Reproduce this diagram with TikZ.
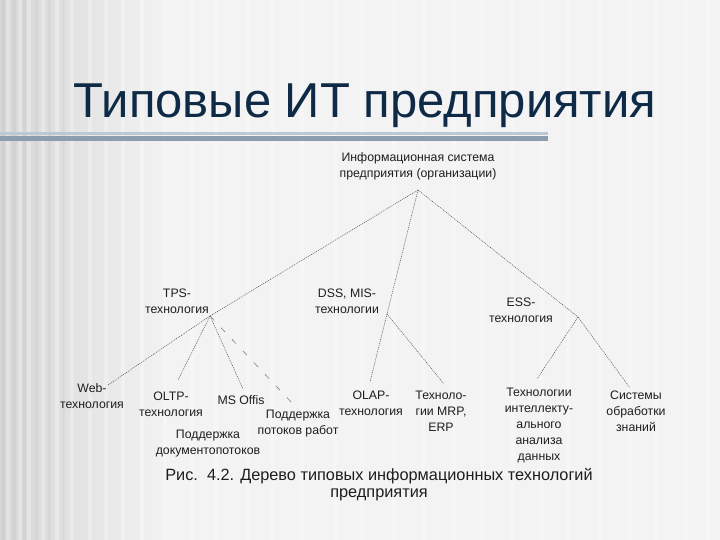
\documentclass[tikz,border=0pt]{standalone}
\usepackage{fontspec}
\setmainfont{Liberation Sans}
\definecolor{bgright}{HTML}{F3F3F3}
\definecolor{bgleft}{HTML}{D6D6D6}
\definecolor{titlecol}{HTML}{0E2A47}
\definecolor{rulecol}{HTML}{8C9DB0}
\definecolor{rulelight}{HTML}{BCC8D4}
\definecolor{txtcol}{HTML}{1E1E1E}
\tikzset{
  txt/.style={align=center, inner sep=0pt, text=txtcol, font=\fontsize{12.3}{16}\selectfont},
  conn/.style={draw=black!70, line width=0.5pt, dash pattern=on 1pt off 1pt},
  longdash/.style={draw=black!50, line width=0.6pt, dash pattern=on 6pt off 10pt}
}
\begin{document}
\begin{tikzpicture}[x=1pt,y=-1pt]
\useasboundingbox (0,0) rectangle (720,540);
% background
\fill[bgright] (0,0) rectangle (720,540);
\shade[left color=bgleft, right color=bgright] (0,0) rectangle (170,540);
\foreach \x in {6,18,27,41,55,70,88,104,121,140,163,190,214,246,271,300,333,360,392,421,452,480,511,540,566,597,628,655,684,706}
  \fill[white, opacity=0.3] (\x,0) rectangle ++(4,540);
\foreach \x in {2,13,23,35,48,62}
  \fill[black, opacity=0.03] (\x,0) rectangle ++(3,540);
% title
\node[anchor=base, inner sep=0pt, text=titlecol, font=\fontsize{49}{58}\selectfont] (title) at (365,118) {Типовые ИТ предприятия};
\fill[rulelight] (0,132) rectangle (548,135);
\fill[rulecol] (0,136.5) rectangle (548,141);
% nodes
\node[txt] (root) at (418,166) {Информационная система\\предприятия (организации)};
\node[txt] (tps) at (177,301) {TPS-\\технология};
\node[txt] (dss) at (347,301) {DSS, MIS-\\технологии};
\node[txt] (ess) at (521,310) {ESS-\\технология};
\node[txt] (web) at (92,396) {Web-\\технология};
\node[txt] (oltp) at (171,404) {OLTP-\\технология};
\node[txt] (msoff) at (241,400) {MS Offis};
\node[txt] (flow) at (298,424) {Поддержка\\потоков работ};
\node[txt] (docs) at (208,444) {Поддержка\\документопотоков};
\node[txt] (olap) at (371,403) {OLAP-\\технология};
\node[txt] (mrp) at (441,411) {Техноло-\\гии MRP,\\ERP};
\node[txt] (intel) at (539,425) {Технологии\\интеллекту-\\ального\\анализа\\данных};
\node[txt] (know) at (636,411) {Системы\\обработки\\знаний};
% caption
\node[align=center, inner sep=0pt, text=txtcol, font=\fontsize{16.3}{17}\selectfont] (cap) at (379,485) {Рис.\ \ 4.2. Дерево типовых информационных технологий\\предприятия};
% connector points
\coordinate (apex) at (418,190);
\coordinate (tpsj) at (210,316);
\coordinate (dssj) at (387,314);
\coordinate (essj) at (578,317);
\coordinate (webe) at (108,385);
\coordinate (oltpe) at (178,380);
\coordinate (msoffe) at (243,389);
\coordinate (flowe) at (293,404);
\coordinate (olape) at (370,382);
\coordinate (mrpe) at (444,384);
\coordinate (intele) at (537,379);
\coordinate (knowe) at (630,388);
% connectors
\draw[conn] (apex) -- (tpsj);
\draw[conn] (apex) -- (dssj);
\draw[conn] (apex) -- (essj);
\draw[conn] (tpsj) -- (webe);
\draw[conn] (tpsj) -- (oltpe);
\draw[conn] (tpsj) -- (msoffe);
\draw[longdash] (tpsj) -- (flowe);
\draw[conn] (dssj) -- (olape);
\draw[conn] (dssj) -- (mrpe);
\draw[conn] (essj) -- (intele);
\draw[conn] (essj) -- (knowe);
\end{tikzpicture}
\end{document}
